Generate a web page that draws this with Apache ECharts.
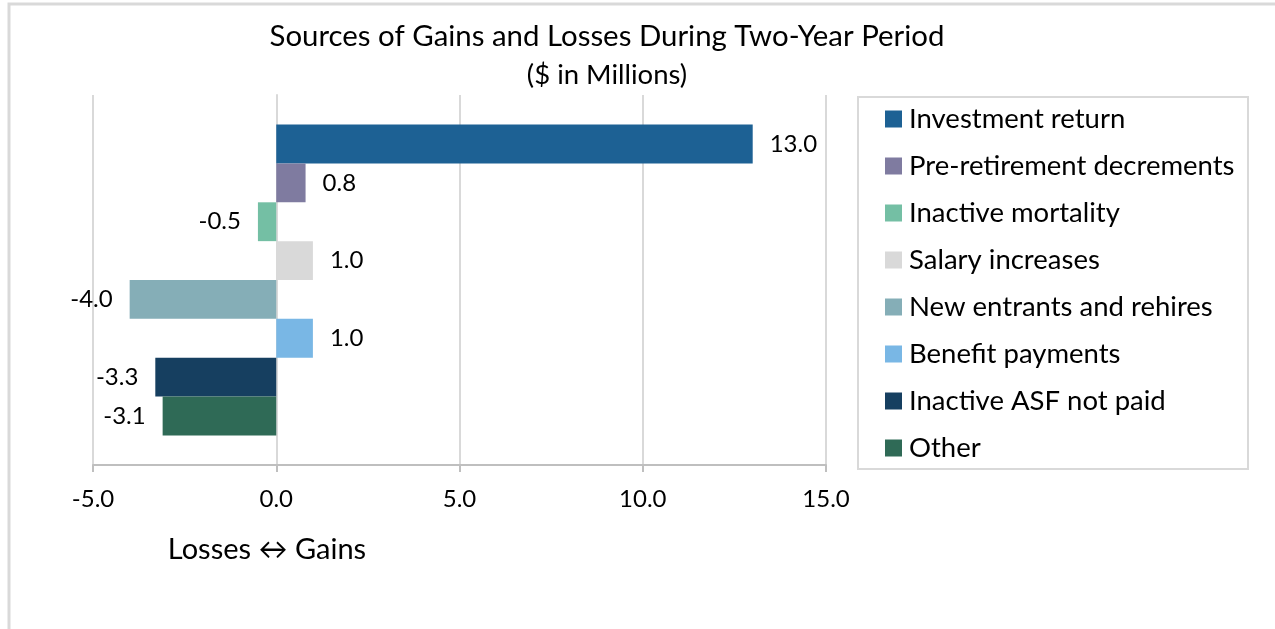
<!DOCTYPE html>
<html>
<head>
<meta charset="utf-8">
<script src="https://cdn.jsdelivr.net/npm/echarts@6/dist/echarts.min.js"></script>
<style>
  html, body { margin: 0; padding: 0; background: #fff; }
  #myChart { width: 1275px; height: 629px; }
</style>
</head>
<body>
<div id="myChart"></div>
<script>
  // sources of gains (+) and losses (-), $ millions
  var sources = ['Investment return', 'Pre-retirement decrements', 'Inactive mortality', 'Salary increases',
    'New entrants and rehires', 'Benefit payments', 'Inactive ASF not paid', 'Other'];
  var amounts = [13.0, 0.8, -0.5, 1.0, -4.0, 1.0, -3.3, -3.1];
  var colors = ['#1d6194', '#7f7ba0', '#74bfa4', '#d9d9d9', '#85aeb7', '#79b7e5', '#163f60', '#2f6a56'];
  var xTicks = { min: -5, max: 15, interval: 5 };

  var font = 'Lato, "Liberation Sans", sans-serif';
  var chart = echarts.init(document.getElementById('myChart'), null, { renderer: 'canvas' });

  var series = sources.map(function (name, i) {
    var v = amounts[i];
    return {
      name: name,
      type: 'bar',
      barGap: '0%',
      barCategoryGap: '16%',
      itemStyle: { color: colors[i] },
      label: {
        show: true,
        position: v < 0 ? 'left' : 'right',
        distance: 17,
        color: '#000',
        fontFamily: font,
        fontSize: 24,
        formatter: function (p) { return p.value.toFixed(1); }
      },
      data: [v]
    };
  });

  var option = {
    animation: false,
    backgroundColor: '#fff',
    title: [
      {
        text: 'Sources of Gains and Losses During Two-Year Period',
        left: 602, top: 17, textAlign: 'center',
        textStyle: { fontFamily: font, fontSize: 29.4, fontWeight: 'normal', color: '#000' }
      },
      {
        text: '($ in Millions)',
        left: 602, top: 56, textAlign: 'center',
        textStyle: { fontFamily: font, fontSize: 27.5, fontWeight: 'normal', color: '#000' }
      }
    ],
    legend: {
      orient: 'vertical',
      left: 885, top: 104,
      padding: 0,
      itemWidth: 17, itemHeight: 17,
      itemGap: 17,
      icon: 'rect',
      textStyle: { fontFamily: font, fontSize: 27.5, color: '#000', lineHeight: 30, padding: [0, 0, 0, 2] },
      data: sources
    },
    grid: { left: 93, right: 449, top: 95, bottom: 164, containLabel: false },
    xAxis: {
      type: 'value',
      min: xTicks.min, max: xTicks.max, interval: xTicks.interval,
      axisLine: { show: true, lineStyle: { color: '#bfbfbf', width: 2 } },
      axisTick: { show: true, length: 7, lineStyle: { color: '#bfbfbf', width: 2 } },
      axisLabel: {
        margin: 22, color: '#000', fontFamily: font, fontSize: 24,
        formatter: function (v) { return v.toFixed(1); }
      },
      splitLine: { show: true, lineStyle: { color: '#d9d9d9', width: 2 } }
    },
    yAxis: {
      type: 'category',
      inverse: true,
      data: [''],
      axisLine: { show: true, onZero: true, lineStyle: { color: '#d9d9d9', width: 2 } },
      axisTick: { show: false },
      axisLabel: { show: false }
    },
    graphic: [
      {
        type: 'rect', silent: true, z: -1,
        shape: { x: 9, y: 4, width: 1300, height: 700 },
        style: { fill: 'none', stroke: '#d9d9d9', lineWidth: 3 }
      },
      {
        type: 'rect', silent: true,
        shape: { x: 858, y: 97, width: 390, height: 372 },
        style: { fill: 'none', stroke: '#d9d9d9', lineWidth: 2 }
      },
      {
        type: 'text', silent: true,
        x: 267, y: 550,
        style: {
          text: 'Losses \u2194 Gains', fontFamily: font, fontSize: 29, fill: '#000',
          textAlign: 'center', textVerticalAlign: 'middle'
        }
      }
    ],
    series: series
  };

  chart.setOption(option, true);
</script>
</body>
</html>
